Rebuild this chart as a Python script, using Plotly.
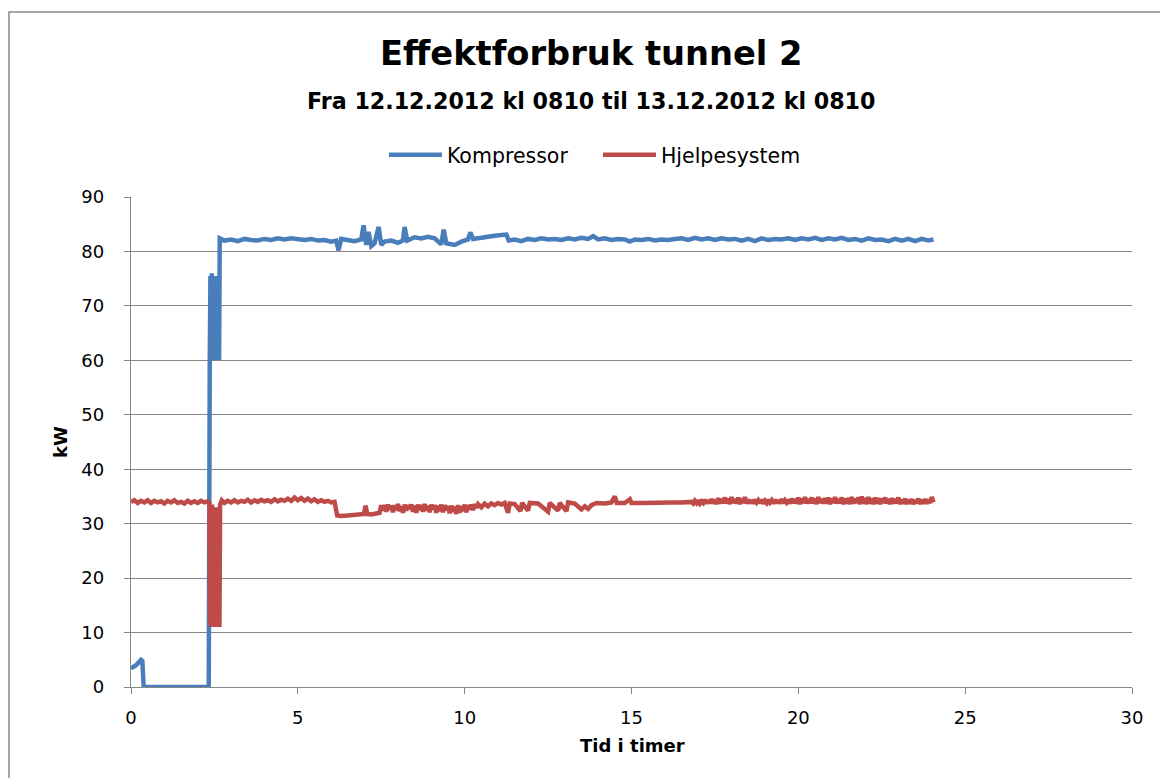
import plotly.graph_objects as go

# ---- data ----
komp_t = [0.00, 0.15, 0.30, 0.34, 0.38, 2.33, 2.36, 2.38, 2.40, 2.42, 2.44, 2.46, 2.48, 2.50,
          2.52, 2.54, 2.56, 2.58, 2.60, 2.62, 2.64, 2.66, 2.8, 3.0, 3.2, 3.4, 3.6, 3.8, 4.0,
          4.2, 4.4, 4.6, 4.8, 5.0, 5.2, 5.4, 5.6, 5.8, 6.0, 6.15, 6.22, 6.3, 6.5, 6.7, 6.9,
          6.97, 7.05, 7.12, 7.2, 7.3, 7.42, 7.5, 7.6, 7.8, 8.0, 8.15, 8.2, 8.28, 8.5, 8.7,
          8.9, 9.1, 9.3, 9.37, 9.45, 9.7, 9.9, 10.1, 10.17, 10.25, 10.5, 10.7, 10.9, 11.1,
          11.25, 11.32, 11.5, 11.7, 11.9, 12.1, 12.3, 12.5, 12.7, 12.9, 13.1, 13.3, 13.5,
          13.7, 13.85, 14.0, 14.2, 14.4, 14.6, 14.8, 14.95, 15.1, 15.3, 15.5, 15.7, 15.9,
          16.1, 16.3, 16.5, 16.7, 16.9, 17.1, 17.3, 17.5, 17.7, 17.9, 18.1, 18.3, 18.5,
          18.7, 18.9, 19.1, 19.3, 19.5, 19.7, 19.9, 20.1, 20.3, 20.5, 20.7, 20.9, 21.1,
          21.3, 21.5, 21.7, 21.9, 22.1, 22.3, 22.5, 22.7, 22.9, 23.1, 23.3, 23.5, 23.7,
          23.9, 24.05]
komp_kw = [3.4, 4.0, 5.0, 4.8, 0.0, 0.0, 59.5, 75.5, 60.0, 76.0, 60.2, 75.0, 60.0, 74.5,
           60.3, 75.5, 60.0, 74.0, 60.5, 73.0, 60.0, 82.4, 82.0, 82.2, 81.9, 82.3, 82.1, 82.0,
           82.3, 82.1, 82.4, 82.2, 82.4, 82.3, 82.1, 82.3, 82.0, 82.1, 81.8, 82.0, 80.2, 82.3,
           82.0, 81.9, 82.2, 84.8, 81.2, 83.6, 81.0, 81.5, 84.5, 81.2, 81.8, 82.0, 81.6, 82.0,
           84.5, 82.0, 82.6, 82.4, 82.7, 82.4, 81.3, 84.0, 81.5, 81.2, 81.8, 82.2, 83.5, 82.3,
           82.5, 82.8, 82.9, 83.0, 83.1, 82.0, 82.2, 81.9, 82.3, 82.1, 82.4, 82.2, 82.3, 82.1,
           82.4, 82.2, 82.5, 82.3, 82.8, 82.2, 82.4, 82.1, 82.3, 82.2, 81.8, 82.2, 82.1, 82.3,
           82.0, 82.2, 82.1, 82.3, 82.4, 82.1, 82.5, 82.2, 82.4, 82.1, 82.4, 82.2, 82.3, 82.0,
           82.3, 81.9, 82.4, 82.1, 82.3, 82.2, 82.4, 82.1, 82.4, 82.2, 82.5, 82.1, 82.4, 82.2,
           82.5, 82.1, 82.3, 82.0, 82.4, 82.1, 82.2, 81.9, 82.3, 82.0, 82.3, 81.9, 82.3, 82.0,
           82.2]

# Hjelpesystem, in segments (time in hours, kW)
hjelp_t_start = [0.0, 0.1, 0.2, 0.3, 0.4, 0.5, 0.6, 0.7, 0.8, 0.9, 1.0, 1.1, 1.2, 1.3, 1.4,
                 1.5, 1.6, 1.7, 1.8, 1.9, 2.0, 2.1, 2.2, 2.3]
hjelp_kw_start = [34.0, 34.3, 33.8, 34.2, 33.9, 34.3, 33.8, 34.2, 33.9, 34.1, 33.7, 34.2, 33.9,
                  34.3, 33.8, 34.0, 33.7, 34.2, 33.8, 34.1, 33.8, 34.2, 33.9, 34.1]

hjelp_t_drop = [2.35, 2.37, 2.39, 2.41, 2.43, 2.45, 2.47, 2.49, 2.51, 2.53, 2.55, 2.57, 2.59,
                2.61, 2.63, 2.65, 2.67]
hjelp_kw_drop = [33.8, 11.5, 33.0, 11.0, 33.5, 11.2, 32.0, 11.0, 33.0, 11.5, 32.5, 11.0, 33.0,
                 11.2, 32.0, 11.0, 33.5]

hjelp_t_mid = [2.72, 2.8, 2.9, 3.0, 3.1, 3.2, 3.3, 3.4, 3.5, 3.6, 3.7, 3.8, 3.9, 4.0, 4.1,
               4.2, 4.3, 4.4, 4.5, 4.6, 4.7, 4.8, 4.9, 5.0, 5.1, 5.2, 5.3, 5.4, 5.5, 5.6,
               5.7, 5.8, 5.9, 6.0, 6.1, 6.18, 6.3, 6.5, 6.7, 6.9, 6.98, 7.03, 7.08, 7.2,
               7.35, 7.45, 7.5]
hjelp_kw_mid = [34.3, 33.8, 34.2, 33.9, 34.3, 33.9, 34.2, 34.0, 34.4, 33.9, 34.3, 34.0, 34.4,
                34.1, 34.3, 34.0, 34.5, 34.1, 34.4, 34.2, 34.6, 34.2, 34.8, 34.3, 34.7, 34.2,
                34.6, 34.1, 34.5, 34.0, 34.3, 34.0, 34.2, 33.9, 34.0, 31.5, 31.4, 31.5, 31.6,
                31.7, 31.8, 33.3, 31.8, 31.7, 31.8, 32.0, 33.4]

hjelp_t_band1 = [7.55, 7.60, 7.65, 7.70, 7.75, 7.80, 7.85, 7.90, 7.95, 8.00, 8.05, 8.10, 8.15,
                 8.20, 8.25, 8.30, 8.35, 8.40, 8.45, 8.50, 8.55, 8.60, 8.65, 8.70, 8.75, 8.80,
                 8.85, 8.90, 8.95, 9.00, 9.05, 9.10, 9.15, 9.20, 9.25, 9.30, 9.35, 9.40, 9.45,
                 9.50, 9.55, 9.60, 9.65, 9.70, 9.75, 9.80, 9.85, 9.90, 9.95, 10.00, 10.05,
                 10.10, 10.15, 10.20, 10.25, 10.30, 10.35, 10.40]
hjelp_kw_band1 = [32.4, 33.4, 32.2, 33.5, 32.6, 33.3, 32.1, 33.4, 32.5, 33.6, 32.3, 33.2, 32.0,
                  33.5, 32.4, 33.4, 32.7, 33.5, 32.2, 33.3, 32.0, 33.5, 32.5, 33.4, 32.2, 33.6,
                  32.4, 33.3, 32.1, 33.5, 32.6, 33.4, 32.0, 33.3, 32.3, 33.5, 32.1, 33.4, 32.5,
                  33.2, 31.9, 33.3, 32.2, 33.1, 31.8, 33.4, 32.0, 33.2, 32.3, 33.5, 32.1, 33.4,
                  32.6, 33.5, 32.5, 33.6, 32.9, 33.6]

hjelp_t_late = [10.5, 10.6, 10.7, 10.8, 10.9, 11.0, 11.1, 11.2, 11.3, 11.35, 11.5, 11.67,
                11.72, 11.9, 11.95, 12.2, 12.5, 12.55, 12.8, 12.85, 13.05, 13.1, 13.3, 13.5,
                13.6, 13.7, 13.8, 13.95, 14.2, 14.4, 14.5, 14.56, 14.8, 14.95, 15.0, 15.3,
                15.6, 15.9, 16.2, 16.5, 16.75]
hjelp_kw_late = [33.0, 33.7, 33.2, 33.7, 33.4, 33.8, 33.5, 33.8, 32.0, 33.7, 33.6, 32.3, 33.8,
                 32.4, 33.8, 33.7, 32.2, 33.8, 32.4, 33.8, 32.3, 33.9, 33.7, 32.6, 33.2, 32.7,
                 33.4, 33.8, 33.7, 33.9, 35.0, 33.8, 33.8, 34.5, 33.8, 33.8, 33.9, 33.8, 33.9,
                 33.9, 34.0]

hjelp_t_band2 = [16.80, 16.85, 16.90, 16.95, 17.00, 17.05, 17.10, 17.15, 17.20, 17.25,
                 17.30, 17.35, 17.40, 17.45, 17.50, 17.55, 17.60, 17.65, 17.70, 17.75,
                 17.80, 17.85, 17.90, 17.95, 18.00, 18.05, 18.10, 18.15, 18.20, 18.25,
                 18.30, 18.35, 18.40, 18.45, 18.50, 18.55, 18.60, 18.65, 18.70, 18.75,
                 18.80, 18.85, 18.90, 18.95, 19.00, 19.05, 19.10, 19.15, 19.20, 19.25,
                 19.30, 19.35, 19.40, 19.45, 19.50, 19.55, 19.60, 19.65, 19.70, 19.75,
                 19.80, 19.85, 19.90, 19.95, 20.00, 20.05, 20.10, 20.15, 20.20, 20.25,
                 20.30, 20.35, 20.40, 20.45, 20.50, 20.55, 20.60, 20.65, 20.70, 20.75,
                 20.80, 20.85, 20.90, 20.95, 21.00, 21.05, 21.10, 21.15, 21.20, 21.25,
                 21.30, 21.35, 21.40, 21.45, 21.50, 21.55, 21.60, 21.65, 21.70, 21.75,
                 21.80, 21.85, 21.90, 21.95, 22.00, 22.05, 22.10, 22.15, 22.20, 22.25,
                 22.30, 22.35, 22.40, 22.45, 22.50, 22.55, 22.60, 22.65, 22.70, 22.75,
                 22.80, 22.85, 22.90, 22.95, 23.00, 23.05, 23.10, 23.15, 23.20, 23.25,
                 23.30, 23.35, 23.40, 23.45, 23.50, 23.55, 23.60, 23.65, 23.70, 23.75,
                 23.80, 23.85, 23.90, 23.95, 24.00, 24.05]
hjelp_kw_band2 = [34.0, 33.7, 34.2, 33.8, 34.3, 33.7, 34.1, 33.8, 34.4, 33.7,
                  34.3, 33.8, 34.5, 33.7, 34.4, 33.6, 34.7, 33.7, 34.5, 33.8,
                  34.8, 33.7, 34.6, 33.6, 34.9, 33.8, 34.5, 33.7, 34.8, 33.6,
                  34.6, 33.8, 34.9, 33.7, 34.4, 33.8, 34.3, 33.7, 34.4, 33.9,
                  34.3, 33.8, 34.4, 33.7, 34.2, 33.8, 34.4, 33.9, 34.3, 33.7,
                  34.4, 33.8, 34.3, 33.7, 34.5, 33.8, 34.3, 33.9, 34.4, 33.7,
                  34.6, 33.8, 34.5, 33.7, 34.8, 33.6, 34.6, 33.8, 34.9, 33.7,
                  34.5, 33.8, 34.8, 33.7, 34.6, 33.6, 34.9, 33.8, 34.5, 33.7,
                  34.7, 33.7, 34.8, 33.6, 34.6, 33.8, 34.9, 33.7, 34.5, 33.8,
                  34.8, 33.6, 34.6, 33.7, 34.7, 33.6, 34.9, 33.7, 34.6, 33.8,
                  34.8, 33.6, 35.0, 33.7, 34.7, 33.6, 34.9, 33.7, 34.6, 33.6,
                  34.8, 33.7, 34.7, 33.6, 34.6, 33.8, 34.8, 33.7, 34.5, 33.6,
                  34.7, 33.7, 34.5, 33.8, 34.8, 33.6, 34.4, 33.7, 34.6, 33.6,
                  34.4, 33.7, 34.5, 33.6, 34.3, 33.8, 34.6, 33.6, 34.4, 33.7,
                  34.5, 33.7, 34.4, 33.8, 34.9, 33.9]

hjelp_t = (hjelp_t_start + hjelp_t_drop + hjelp_t_mid + hjelp_t_band1 + hjelp_t_late
           + hjelp_t_band2)
hjelp_kw = (hjelp_kw_start + hjelp_kw_drop + hjelp_kw_mid + hjelp_kw_band1 + hjelp_kw_late
            + hjelp_kw_band2)

series_names = ["Kompressor", "Hjelpesystem"]
series_colors = ["#4A7EBB", "#BE4B48"]
x_ticks = [0, 5, 10, 15, 20, 25, 30]
y_ticks = [0, 10, 20, 30, 40, 50, 60, 70, 80, 90]

title_text = "Effektforbruk tunnel 2"
subtitle_text = "Fra 12.12.2012 kl 0810 til 13.12.2012 kl 0810"
x_title = "Tid i timer"
y_title = "kW"

FONT = "DejaVu Sans"
GRID = "#878787"

fig = go.Figure()
for name, color, xs, ys in [(series_names[0], series_colors[0], komp_t, komp_kw),
                            (series_names[1], series_colors[1], hjelp_t, hjelp_kw)]:
    fig.add_trace(go.Scatter(x=xs, y=ys, mode="lines", name=name,
                             line=dict(color=color, width=4.5)))

fig.update_layout(
    width=1160, height=778,
    margin=dict(l=131, r=28, t=197, b=91),
    paper_bgcolor="white", plot_bgcolor="white",
    font=dict(family=FONT, color="black", size=17),
    showlegend=True,
    legend=dict(orientation="h", x=0.2527, xanchor="left", y=1.086, yanchor="middle",
                font=dict(size=20.5, family=FONT), itemwidth=53, entrywidth=146,
                entrywidthmode="pixels", bgcolor="rgba(0,0,0,0)", traceorder="normal"),
    xaxis=dict(range=[0, 30], tickvals=x_ticks, showgrid=False, zeroline=False,
               showline=True, linecolor=GRID, linewidth=1.3, ticks="outside",
               ticklen=6, tickcolor=GRID, tickwidth=1.3, ticklabelstandoff=8,
               tickfont=dict(size=18)),
    yaxis=dict(range=[0, 90], tickvals=y_ticks, showgrid=True, gridcolor=GRID,
               gridwidth=1.3, zeroline=False, showline=True, linecolor=GRID,
               linewidth=1.3, ticks="outside", ticklen=6, tickcolor=GRID, tickwidth=1.3,
               ticklabelstandoff=16, tickfont=dict(size=18)),
    annotations=[
        dict(text="<b>" + title_text + "</b>", xref="paper", yref="paper", x=0.46, y=1.292,
             xanchor="center", yanchor="middle", showarrow=False,
             font=dict(size=33.7, family=FONT)),
        dict(text="<b>" + subtitle_text + "</b>", xref="paper", yref="paper", x=0.4605,
             y=1.196, xanchor="center", yanchor="middle", showarrow=False,
             font=dict(size=22.2, family=FONT)),
        dict(text="<b>" + y_title + "</b>", xref="paper", yref="paper", x=-0.071, y=0.5,
             xanchor="center", yanchor="middle", showarrow=False, textangle=-90,
             font=dict(size=18, family=FONT)),
        dict(text="<b>" + x_title + "</b>", xref="paper", yref="paper", x=0.5005,
             y=-0.12, xanchor="center", yanchor="middle", showarrow=False,
             font=dict(size=18, family=FONT)),
    ],
    shapes=[dict(type="rect", xref="paper", yref="paper", x0=-0.1219, x1=1.05,
                 y0=-0.25, y1=1.3776, line=dict(color="#898989", width=1.5),
                 fillcolor="rgba(0,0,0,0)", layer="below")],
)

fig.write_html("out.html", config={"displayModeBar": False},
               post_script="document.body.style.margin='0px';")
